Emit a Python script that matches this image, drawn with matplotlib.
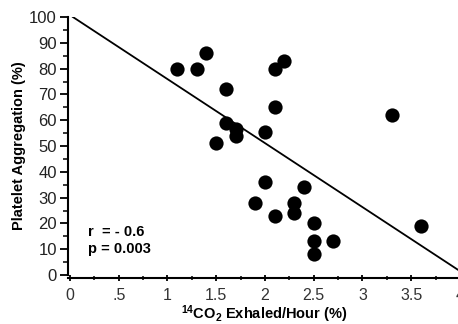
import numpy as np
import matplotlib.pyplot as plt
from matplotlib.ticker import MultipleLocator, FuncFormatter

plt.rcParams['font.family'] = ['Liberation Sans', 'DejaVu Sans']
plt.rcParams['mathtext.fontset'] = 'custom'
plt.rcParams['mathtext.rm'] = 'Liberation Sans'
plt.rcParams['mathtext.bf'] = 'Liberation Sans:bold'

# data
co2 = [1.1, 1.3, 1.4, 1.6, 1.6, 1.5, 2.2, 2.1, 2.1, 3.3, 1.7, 1.7,
       2.0, 2.0, 2.4, 1.9, 2.3, 2.3, 2.1, 2.5, 2.5, 2.7, 2.5, 3.6]
aggr = [80, 80, 86, 72, 59, 51, 83, 80, 65, 62, 56.5, 54,
        55.5, 36, 34, 28, 28, 24, 23, 20, 13, 13, 8, 19]
fit_x = [0.03, 4.0]
fit_y = [100, 1.5]
stats = "r  = - 0.6\np = 0.003"

fig = plt.figure(figsize=(4.58, 3.24), dpi=100)
ax = fig.add_axes([68 / 458, 49 / 324, 392 / 458, 258 / 324])

ax.scatter(co2, aggr, s=105, color='black', zorder=3, linewidths=0)
ax.plot(fit_x, fit_y, color='black', lw=1.3)

ax.set_xlim(-0.02, 4.0)
ax.set_ylim(0, 100)
ax.spines['top'].set_visible(False)
ax.spines['right'].set_visible(False)
ax.spines['left'].set_linewidth(1.5)
ax.spines['bottom'].set_linewidth(1.5)
ax.spines['bottom'].set_position(('outward', 2))

ax.xaxis.set_major_locator(MultipleLocator(0.5))
ax.xaxis.set_minor_locator(MultipleLocator(0.25))
ax.yaxis.set_major_locator(MultipleLocator(10))
ax.yaxis.set_minor_locator(MultipleLocator(5))


def xfmt(v, pos):
    if v == 0:
        return '0'
    s = ('%g' % v)
    return s[1:] if s.startswith('0.') else s


ax.xaxis.set_major_formatter(FuncFormatter(xfmt))
ax.tick_params(axis='y', which='major', direction='out', length=6, width=1.3,
               labelsize=12, pad=2, colors='black', labelcolor='#222222')
ax.tick_params(axis='y', which='minor', direction='out', length=3.5, width=1.1)
ax.tick_params(axis='x', which='major', direction='inout', length=5, width=1.3,
               labelsize=11.5, pad=5, labelcolor='#333333')
ax.tick_params(axis='x', which='minor', direction='inout', length=3, width=1.1)

ax.set_ylabel('Platelet Aggregation (%)', fontsize=10.5, fontweight='bold', labelpad=2)
ax.set_xlabel(r'$\mathbf{^{14}CO_{2}}$ Exhaled/Hour (%)', fontsize=10.5,
              fontweight='bold', labelpad=0)
ax.text(0.18, 13.5, stats, fontsize=10.5, fontweight='bold', va='center',
        linespacing=1.25)

plt.savefig('out.png', dpi=100)
